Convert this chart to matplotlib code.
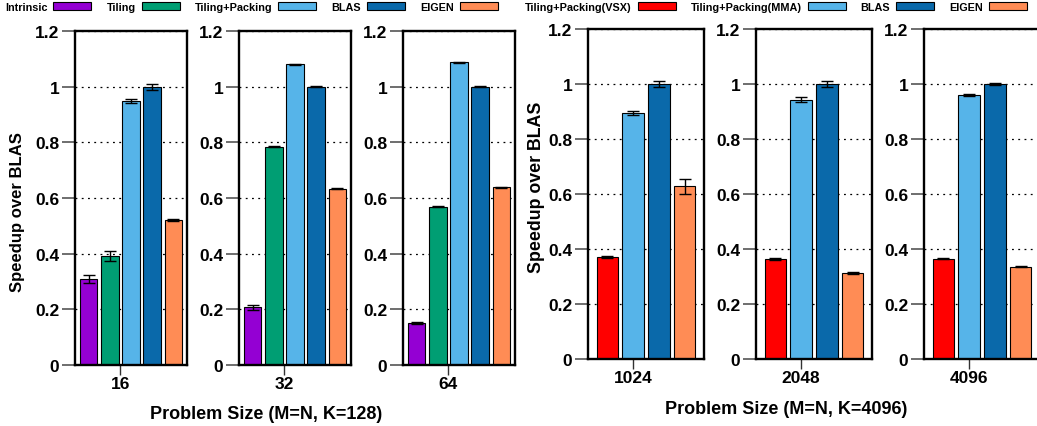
import matplotlib

matplotlib.use("Agg")
import matplotlib.pyplot as plt
from matplotlib.patches import Patch

plt.rcParams["font.family"] = ["Liberation Sans", "DejaVu Sans"]
plt.rcParams["font.weight"] = "bold"

# K=128 sweep
small_sizes = ["16", "32", "64"]
small_series = ["Intrinsic", "Tiling", "Tiling+Packing", "BLAS", "EIGEN"]
intrinsic = [0.310, 0.207, 0.151]
intrinsic_err = [0.015, 0.009, 0.004]
tiling = [0.392, 0.785, 0.568]
tiling_err = [0.017, 0.002, 0.002]
tiling_packing = [0.947, 1.080, 1.087]
tiling_packing_err = [0.007, 0.002, 0.002]
blas_small = [1.0, 1.0, 1.0]
blas_small_err = [0.011, 0.002, 0.002]
eigen_small = [0.520, 0.633, 0.638]
eigen_small_err = [0.003, 0.002, 0.002]

# K=4096 sweep
large_sizes = ["1024", "2048", "4096"]
large_series = ["Tiling+Packing(VSX)", "Tiling+Packing(MMA)", "BLAS", "EIGEN"]
vsx = [0.370, 0.364, 0.364]
vsx_err = [0.003, 0.003, 0.002]
mma = [0.895, 0.943, 0.961]
mma_err = [0.008, 0.008, 0.003]
blas_large = [1.0, 1.0, 1.0]
blas_large_err = [0.012, 0.012, 0.003]
eigen_large = [0.628, 0.313, 0.336]
eigen_large_err = [0.028, 0.005, 0.003]

PURPLE = "#9400d3"
GREEN = "#009e73"
LIGHT_BLUE = "#56b4e9"
DARK_BLUE = "#0a69aa"
ORANGE = "#ff8c55"
RED = "#ff0000"

W, H = 1037, 427
fig = plt.figure(figsize=(W / 100, H / 100), dpi=100)


def px_axes(left, top, right, bottom):
    return fig.add_axes([left / W, 1 - bottom / H, (right - left) / W, (bottom - top) / H])


def draw_panel(ax, values, errors, colors, label, half_width):
    n = len(values)
    xs = [i - (n - 1) / 2 for i in range(n)]
    for x, v, e, c in zip(xs, values, errors, colors):
        ax.bar(x, v, width=0.84, color=c, edgecolor="black", linewidth=0.8,
               yerr=e, capsize=4.3,
               error_kw=dict(elinewidth=1.0, capthick=1.0, ecolor="black"))
    ax.set_xlim(-half_width, half_width)
    ax.set_ylim(0, 1.2)
    ax.set_xticks([-0.5])
    ax.set_xticklabels([label], fontsize=12.5, fontweight="bold")
    ax.set_yticks([0, 0.2, 0.4, 0.6, 0.8, 1.0, 1.2])
    ax.set_yticklabels(["0", "0.2", "0.4", "0.6", "0.8", "1", "1.2"],
                       fontsize=12.5, fontweight="bold")
    ax.tick_params(axis="y", length=9.4, width=1.2, color="#555555", pad=2)
    ax.tick_params(axis="x", length=7.2, width=1.0, color="#333333", pad=1)
    ax.grid(axis="y", color="black", linestyle=(0, (1.5, 3.5)), linewidth=0.9)
    ax.set_axisbelow(True)
    for s in ax.spines.values():
        s.set_linewidth(1.7)
        s.set_color("black")


small_colors = [PURPLE, GREEN, LIGHT_BLUE, DARK_BLUE, ORANGE]
small_bounds = [(75, 187), (239, 351), (403, 515)]
small_groups = list(zip(intrinsic, tiling, tiling_packing, blas_small, eigen_small))
small_errs = list(zip(intrinsic_err, tiling_err, tiling_packing_err, blas_small_err, eigen_small_err))
for (l, r), size, vals, errs in zip(small_bounds, small_sizes, small_groups, small_errs):
    ax = px_axes(l, 32, r, 366)
    draw_panel(ax, vals, errs, small_colors, size, 2.64)

large_colors = [RED, LIGHT_BLUE, DARK_BLUE, ORANGE]
large_bounds = [(588, 704), (756, 872), (924, 1040)]
large_groups = list(zip(vsx, mma, blas_large, eigen_large))
large_errs = list(zip(vsx_err, mma_err, blas_large_err, eigen_large_err))
for (l, r), size, vals, errs in zip(large_bounds, large_sizes, large_groups, large_errs):
    ax = px_axes(l, 30, r, 360)
    draw_panel(ax, vals, errs, large_colors, size, 2.25)

# axis titles
fig.text(17.5 / W, 1 - 212 / H, "Speedup over BLAS", rotation=90, ha="center", va="center",
         fontsize=12, fontweight="bold")
fig.text(536.5 / W, 1 - 187 / H, "Speedup over BLAS", rotation=90, ha="center", va="center",
         fontsize=12.8, fontweight="bold")
fig.text(266 / W, 1 - 415 / H, "Problem Size (M=N, K=128)", ha="center", va="center",
         fontsize=13, fontweight="bold")
fig.text(786 / W, 1 - 410 / H, "Problem Size (M=N, K=4096)", ha="center", va="center",
         fontsize=13, fontweight="bold")

# legends along the top edge, label before swatch
legend_kw = dict(ncol=5, frameon=False, markerfirst=False, fontsize=7.8,
                 handlelength=3.5, handleheight=0.7, handletextpad=0.55,
                 columnspacing=1.4, borderpad=0, borderaxespad=0, loc="center left",
                 prop={"weight": "bold", "size": 7.8})
small_handles = [Patch(facecolor=c, edgecolor="black", linewidth=0.8) for c in small_colors]
fig.legend(small_handles, small_series, bbox_to_anchor=(5 / W, 1 - 8 / H), **legend_kw)
large_handles = [Patch(facecolor=c, edgecolor="black", linewidth=0.8) for c in large_colors]
fig.legend(large_handles, large_series, bbox_to_anchor=(525 / W, 1 - 8 / H), **legend_kw)

fig.savefig("out.png", dpi=100)
